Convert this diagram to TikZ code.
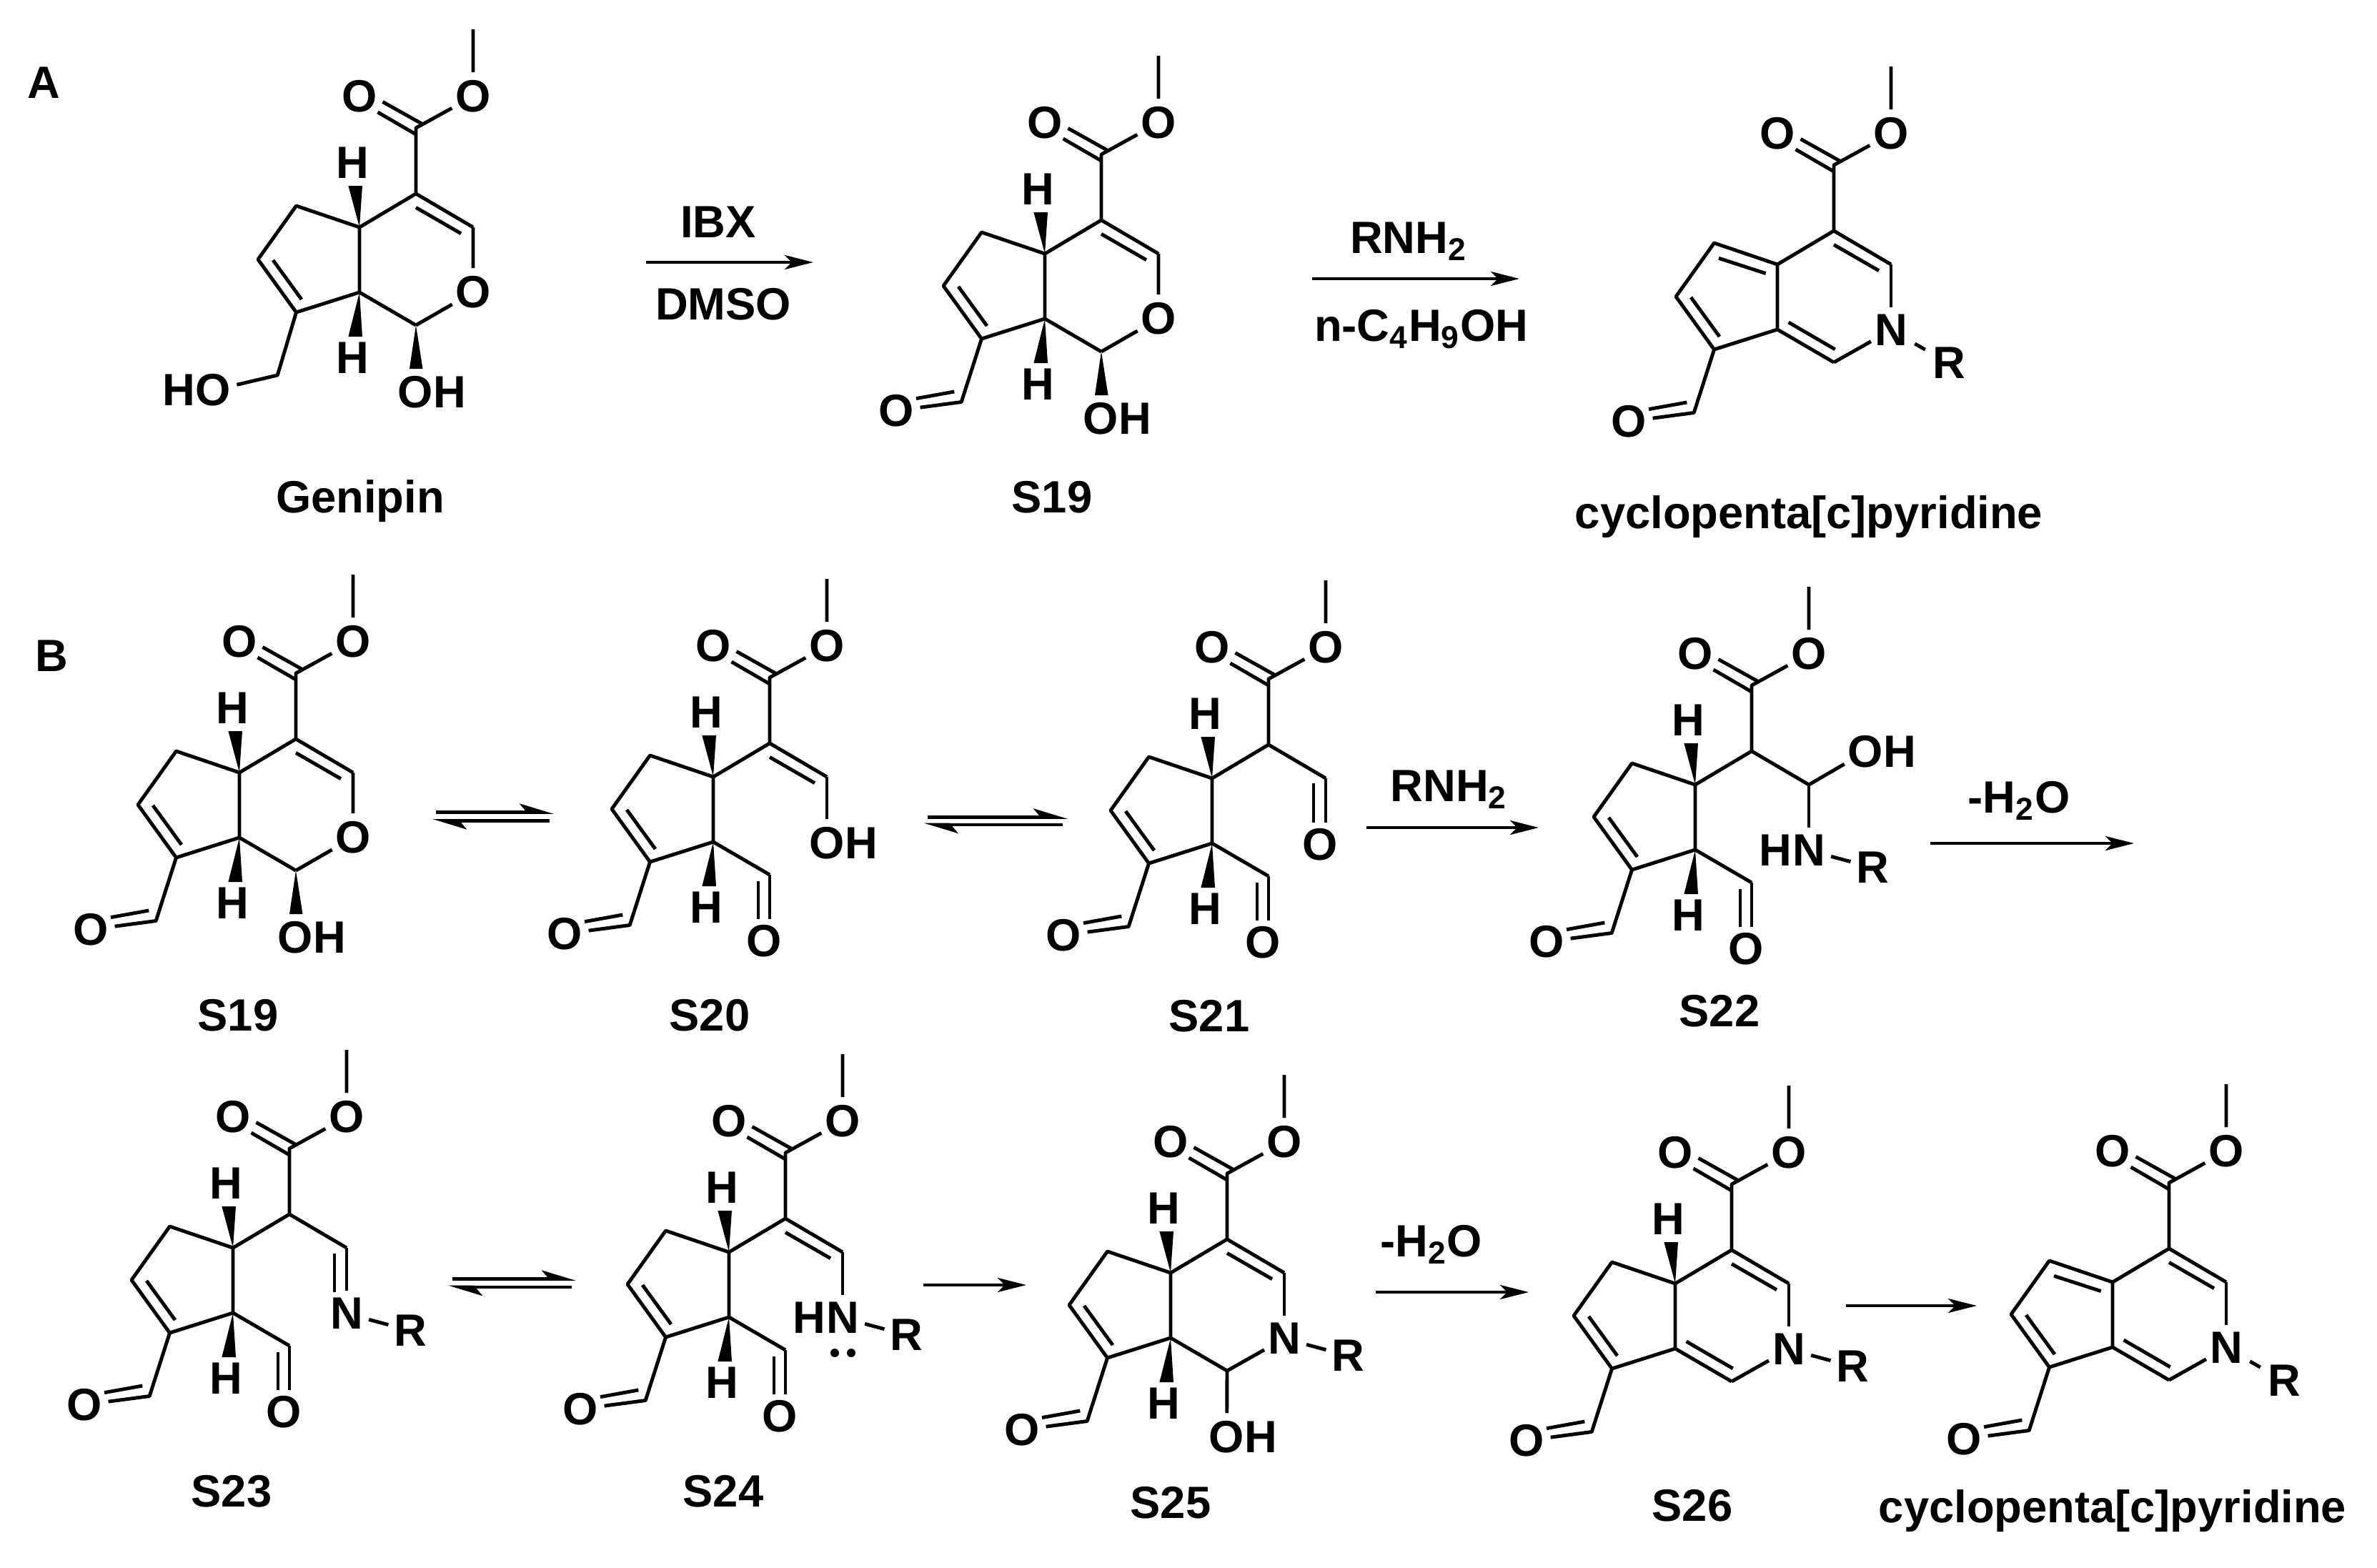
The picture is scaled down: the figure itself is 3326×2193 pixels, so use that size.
\documentclass[tikz,border=0pt]{standalone}
\usepackage{fontspec}
\setmainfont{Liberation Sans}
\usetikzlibrary{arrows.meta}
\tikzset{
  atom/.style={circle,inner sep=0pt,minimum size=0.62cm},
  tag/.style={inner sep=0pt},
  caption/.style={inner sep=0pt,anchor=base},
  bond/.style={line width=1.4pt,line join=round},
  rxn/.style={line width=1.35pt,-{Stealth[length=0.40cm,width=0.2cm,inset=0.1cm]}},
  eqm/.style={line width=1.35pt,-{Stealth[harpoon,length=0.40cm,width=0.24cm,inset=0.1cm]}},
}
\begin{document}
\begin{tikzpicture}[x=0.01cm,y=-0.01cm,font=\bfseries\fontsize{18pt}{20pt}\selectfont]
  \useasboundingbox (0,0) rectangle (3326,2193);
  % Skeleton shared by all twelve structures
  \foreach \mol/\ox/\oy in {gen/503/318,a19/1462/355,acp/2487/370,b19/335/1081,s20/998/1087,s21/1696/1089,
      s22/2372/1098,s23/326/1746,s24/1020/1752,s25/1638/1781,s26/2344/1796,bcp/2956/1794} {
    \begin{scope}[shift={(\ox,\oy)}]
      \coordinate (\mol-c4a) at (0,0);
      \coordinate (\mol-c7a) at (0,91);
      \coordinate (\mol-c5) at (-88.5,-30);
      \coordinate (\mol-c6) at (-142,45);
      \coordinate (\mol-c7) at (-88.5,119);
      \coordinate (\mol-c4) at (79,-47);
      \coordinate (\mol-cc) at (79,-139);
      \coordinate (\mol-c3) at (159,0);
      \coordinate (\mol-c1) at (79,137);
      \coordinate (\mol-me) at (159,-277);
      \node[atom] (\mol-oc) at (0,-183) {O};
      \node[atom] (\mol-oe) at (159,-183) {O};
      \draw[bond] (\mol-c4a) -- (\mol-c5) -- (\mol-c6) -- (\mol-c7) -- (\mol-c7a) -- cycle;
      \draw[bond] (\mol-c4a) -- (\mol-c4) -- (\mol-cc) -- (\mol-oe) -- (\mol-me);
      \draw[bond] (\mol-c4) -- (\mol-c3);
      \draw[bond] (\mol-c7a) -- (\mol-c1);
      \draw[bond] (25.5,-161) -- (79,-130) (32.5,-175.5) -- (87,-145);
      \draw[bond] (-121,46) -- (-81,101);
    \end{scope}
  }
  % Aldehyde on the five-membered ring
  \foreach \mol in {a19,acp,b19,s20,s21,s22,s23,s24,s25,s26,bcp} {
    \begin{scope}[shift={(\mol-c4a)}]
      \coordinate (\mol-cho) at (-116.8,207.5);
      \node[atom] (\mol-oa) at (-208,219.6) {O};
      \draw[bond] (\mol-c7) -- (\mol-cho) -- (\mol-oa);
      \draw[bond] (-126.7,193) -- (-180,202.6);
    \end{scope}
  }
  % Genipin side chain
  \begin{scope}[shift={(gen-c4a)}]
    \coordinate (gen-ch2) at (-114.7,207);
    \node[atom] (gen-ho) at (-204.6,228) {O};
    \node[tag,anchor=east] (gen-ho-h) at ([xshift=-0.243cm]gen-ho.center) {H};
    \draw[bond] (gen-c7) -- (gen-ch2) -- (gen-ho);
  \end{scope}
  % Wedged hydrogens
  \foreach \mol in {gen,a19,b19,s20,s21,s22,s23,s24,s25,s26} {
    \begin{scope}[shift={(\mol-c4a)}]
      \node[tag] (\mol-ht) at (-10,-90.6) {H};
      \fill (\mol-c4a) -- (-15.6,-58) -- (4,-58) -- cycle;
    \end{scope}
  }
  \foreach \mol in {gen,a19,b19,s20,s21,s22,s23,s24,s25} {
    \begin{scope}[shift={(\mol-c4a)}]
      \node[tag] (\mol-hb) at (-10,183) {H};
      \fill (\mol-c7a) -- (-15.6,153) -- (4,153) -- cycle;
    \end{scope}
  }
  % Inner lines of the double bonds
  \foreach \mol in {gen,a19,b19,s20,s24,s25,s26,acp,bcp} {
    \begin{scope}[shift={(\mol-c4a)}]
      \draw[bond] (79,-27.6) -- (142,8.7);
    \end{scope}
  }
  \foreach \mol in {s26,acp,bcp} {
    \begin{scope}[shift={(\mol-c4a)}]
      \draw[bond] (15.6,81) -- (80.7,118.8);
    \end{scope}
  }
  \foreach \mol in {acp,bcp} {
    \begin{scope}[shift={(\mol-c4a)}]
      \draw[bond] (-82,-8.7) -- (-16.3,12.6);
    \end{scope}
  }
  % Pyran ring with its hydroxyl
  \foreach \mol in {gen,a19,b19} {
    \begin{scope}[shift={(\mol-c4a)}]
      \node[atom] (\mol-or) at (159,91) {O};
      \node[atom] (\mol-oh) at (78,231) {O};
      \node[tag,anchor=west] (\mol-oh-h) at ([xshift=0.243cm]\mol-oh.center) {H};
      \draw[bond] (\mol-c3) -- (\mol-or) -- (\mol-c1);
      \fill (\mol-c1) -- (70,198) -- (88.5,198) -- cycle;
    \end{scope}
  }
  % Open aldehyde on C1
  \foreach \mol in {s20,s21,s22,s23,s24} {
    \begin{scope}[shift={(\mol-c4a)}]
      \node[atom] (\mol-ob) at (71,230) {O};
      \draw[bond] (\mol-c1) -- ++(0,62);
      \draw[bond] (63,146) -- (63,199);
    \end{scope}
  }
  % Nitrogen and R
  \foreach \mol/\rx/\ry/\gap in {s22/248.5/116/0pt,s23/248.5/116/0pt,s24/248.5/116/0pt,s25/248.5/116/0pt,
      s26/248.5/116/0pt,acp/240/138/0.06cm,bcp/240/138/0.06cm} {
    \begin{scope}[shift={(\mol-c4a)}]
      \node[atom] (\mol-n) at (159,92) {N};
      \node[atom] (\mol-r) at (\rx,\ry) {R};
      \draw[bond] (\mol-c3) -- (\mol-n);
      \draw[bond,shorten <=\gap,shorten >=\gap] (\mol-n) -- (\mol-r);
    \end{scope}
  }
  \foreach \mol in {s22,s24} {
    \node[tag,anchor=east] (\mol-n-h) at ([xshift=-0.226cm]\mol-n.center) {H};
  }
  \foreach \mol in {s25,s26,acp,bcp} {
    \draw[bond] (\mol-n) -- (\mol-c1);
  }
  % Single pieces
  \begin{scope}[shift={(s20-c4a)}]
    \node[atom] (s20-ot) at (159,93) {O};
    \node[tag,anchor=west] (s20-ot-h) at ([xshift=0.243cm]s20-ot.center) {H};
    \draw[bond] (s20-c3) -- (s20-ot);
  \end{scope}
  \begin{scope}[shift={(s21-c4a)}]
    \node[atom] (s21-ot) at (151,93) {O};
    \draw[bond] (s21-c3) -- ++(0,61.5);
    \draw[bond] (142,7) -- (142,61.5);
  \end{scope}
  \begin{scope}[shift={(s22-c4a)}]
    \node[atom] (s22-ot) at (238,-46) {O};
    \node[tag,anchor=west] (s22-ot-h) at ([xshift=0.243cm]s22-ot.center) {H};
    \draw[bond] (s22-c3) -- (s22-ot);
  \end{scope}
  \begin{scope}[shift={(s23-c4a)}]
    \draw[bond] (142,8) -- (142,62);
  \end{scope}
  \begin{scope}[shift={(s24-c4a)}]
    \fill (148,141) circle (6) (171,141) circle (6);
  \end{scope}
  \begin{scope}[shift={(s25-c4a)}]
    \node[atom] (s25-oh) at (78.6,230) {O};
    \node[tag,anchor=west] (s25-oh-h) at ([xshift=0.243cm]s25-oh.center) {H};
    \draw[bond] (s25-c1) -- (s25-oh);
  \end{scope}
  % Reaction arrows
  \foreach \arw/\xa/\xb/\yy in {ibx/904/1138/367,amine/1836/2126/390,rnh/1912/2153/1158,wat/2701/2986/1180,
      go/1292/1436/1798,loss/1925/2139/1808,last/2583/2766/1827} {
    \coordinate (\arw-s) at (\xa,\yy);
    \coordinate (\arw-e) at (\xb,\yy);
    \draw[rxn] (\arw-s) -- (\arw-e);
  }
  \foreach \arw/\xa/\xb/\yy in {eqa/610/775/1136.5,eqb/769/605/1148.4,eqc/1298/1494/1143.4,eqd/1487/1292.6/1154,
      eqe/633/806/1789.5,eqf/800/627/1801} {
    \coordinate (\arw-s) at (\xa,\yy);
    \coordinate (\arw-e) at (\xb,\yy);
    \draw[eqm] (\arw-s) -- (\arw-e);
  }
  % Texts
  \foreach \nm/\txt/\cx/\cy in {pa/A/61/137,pb/B/72/939,
      ibx/IBX/1005/332,dmso/DMSO/1012/447,
      ra/RNH\textsubscript{2}/1971/354,rb/n-C\textsubscript{4}H\textsubscript{9}OH/1988.6/477.5,
      rc/RNH\textsubscript{2}/2027.6/1121,wa/-H\textsubscript{2}O/2825/1137,wb/-H\textsubscript{2}O/2003/1758,
      gen/Genipin/504/717,a19/S19/1472/717,acp/cyclopenta{[}c{]}pyridine/2531/739,
      b19/S19/333/1442,s20/S20/993/1442,s21/S21/1692/1443,s22/S22/2406/1436,
      s23/S23/324/2108.5,s24/S24/1012/2108.5,s25/S25/1638/2124.7,s26/S26/2368/2128,
      bcp/cyclopenta{[}c{]}pyridine/2956/2130} {
    \node[caption] (txt-\nm) at (\cx,\cy) {\txt};
  }
\end{tikzpicture}
\end{document}
